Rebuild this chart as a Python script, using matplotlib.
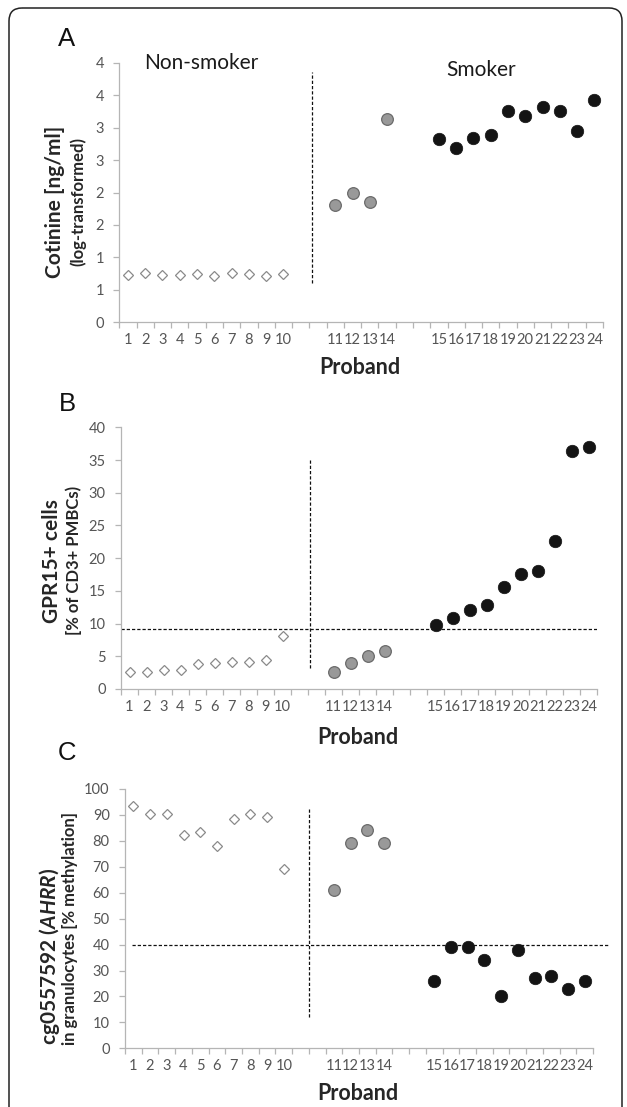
import matplotlib.pyplot as plt
from matplotlib.patches import FancyBboxPatch

plt.rcParams['font.family'] = ['Lato', 'DejaVu Sans']
plt.rcParams['mathtext.fontset'] = 'custom'
plt.rcParams['mathtext.bfit'] = 'Lato:bold:italic'
plt.rcParams['mathtext.bf'] = 'Lato:bold'

# proband slots on the category axis ('' = empty gap)
proband_slots = ['1', '2', '3', '4', '5', '6', '7', '8', '9', '10', '', '',
                 '11', '12', '13', '14', '', '',
                 '15', '16', '17', '18', '19', '20', '21', '22', '23', '24']
nonsmoker_ids = ['1', '2', '3', '4', '5', '6', '7', '8', '9', '10']
light_ids = ['11', '12', '13', '14']
smoker_ids = ['15', '16', '17', '18', '19', '20', '21', '22', '23', '24']

# A: cotinine (log-transformed)
cotinine_non = [0.73, 0.76, 0.73, 0.73, 0.74, 0.72, 0.76, 0.74, 0.72, 0.74]
cotinine_light = [1.80, 2.00, 1.85, 3.14]
cotinine_smk = [2.82, 2.68, 2.84, 2.89, 3.25, 3.18, 3.32, 3.25, 2.95, 3.42]
cotinine_ticks = [0, 0.5, 1, 1.5, 2, 2.5, 3, 3.5, 4]
cotinine_ticklabels = ['0', '1', '1', '2', '2', '3', '3', '4', '4']

# B: GPR15+ cells
gpr15_non = [2.6, 2.6, 2.9, 2.9, 3.8, 3.9, 4.2, 4.2, 4.5, 8.1]
gpr15_light = [2.6, 3.9, 5.0, 5.8]
gpr15_smk = [9.8, 10.9, 12.1, 12.8, 15.6, 17.6, 18.0, 22.6, 36.4, 37.0]
gpr15_cutoff = 9.1

# C: cg05575921 AHRR methylation
ahrr_non = [93.3, 90.2, 90.2, 82.3, 83.3, 78.1, 88.3, 90.2, 89.3, 69.2]
ahrr_light = [61.2, 79.3, 84.3, 79.3]
ahrr_smk = [26.1, 39.1, 39.1, 34.1, 20.1, 38.0, 27.1, 28.0, 23.0, 26.1]
ahrr_cutoff = 40

W, H = 627, 1107
fig = plt.figure(figsize=(W / 100, H / 100), dpi=100)

# overlay in pixel coordinates for the frame and free text
over = fig.add_axes([0, 0, 1, 1])
over.set_xlim(0, W)
over.set_ylim(H, 0)
over.axis('off')
over.add_patch(FancyBboxPatch((9, 8), 613, 1130, boxstyle='round,pad=0,rounding_size=13',
                              fc='none', ec='#222222', lw=1.1))

pos = {lab: i for i, lab in enumerate(proband_slots) if lab}
AX_GREY = '#b5b5b5'
TXT_GREY = '#555555'


def draw_panel(rect, non, light, smk, ylim, yticks, yticklabels):
    ax = fig.add_axes([rect[0] / W, 1 - rect[3] / H, (rect[2] - rect[0]) / W, (rect[3] - rect[1]) / H])
    ax.plot([pos[k] for k in nonsmoker_ids], non, ls='none', marker='D', ms=5.6,
            mfc='white', mec='#8a8a8a', mew=0.9, clip_on=False, zorder=3)
    ax.plot([pos[k] for k in light_ids], light, ls='none', marker='o', ms=8.4,
            mfc='#999999', mec='#6a6a6a', mew=0.9, clip_on=False, zorder=3)
    ax.plot([pos[k] for k in smoker_ids], smk, ls='none', marker='o', ms=9.0,
            mfc='#141414', mec='#141414', mew=0.5, clip_on=False, zorder=3)
    ax.set_xlim(-0.5, len(proband_slots) - 0.5)
    ax.set_ylim(*ylim)
    ax.set_xticks(range(len(proband_slots)))
    ax.set_xticklabels(proband_slots)
    ax.set_xticks([i - 0.5 for i in range(len(proband_slots) + 1)], minor=True)
    ax.tick_params(axis='x', which='major', length=0, pad=8, labelsize=10.5, labelcolor=TXT_GREY)
    ax.tick_params(axis='x', which='minor', length=4, width=0.9, color=AX_GREY)
    ax.set_yticks(yticks)
    ax.set_yticklabels(yticklabels)
    ax.tick_params(axis='y', length=4, width=0.9, color=AX_GREY, pad=7, labelsize=10.5, labelcolor=TXT_GREY)
    for s in ['top', 'right']:
        ax.spines[s].set_visible(False)
    for s in ['left', 'bottom']:
        ax.spines[s].set_color(AX_GREY)
        ax.spines[s].set_linewidth(0.9)
    ax.patch.set_alpha(0)
    return ax


dash = (0, (2.6, 1.6))

axA = draw_panel((119.3, 62.7, 603, 322.3), cotinine_non, cotinine_light, cotinine_smk,
                 (0, 4), cotinine_ticks, cotinine_ticklabels)
axA.plot([10.65, 10.65], [0.6, 3.86], color='#111111', lw=0.9, ls=dash)

axB = draw_panel((121, 427.3, 597, 689), gpr15_non, gpr15_light, gpr15_smk,
                 (0, 40), range(0, 41, 5), [str(v) for v in range(0, 41, 5)])
axB.plot([10.6, 10.6], [3.2, 35.3], color='#111111', lw=0.9, ls=dash)
axB.plot([-0.5, 27.5], [gpr15_cutoff, gpr15_cutoff], color='#111111', lw=0.9, ls=dash)

axC = draw_panel((125, 789, 593, 1048.3), ahrr_non, ahrr_light, ahrr_smk,
                 (0, 100), range(0, 101, 10), [str(v) for v in range(0, 101, 10)])
axC.plot([10.5, 10.5], [12.2, 93.2], color='#111111', lw=0.9, ls=dash)
axC.plot([-0.1, 28.4], [ahrr_cutoff, ahrr_cutoff], color='#111111', lw=0.9, ls=dash, clip_on=False)

# panel letters
for lab, y in [('A', 39), ('B', 404), ('C', 753)]:
    over.text(67, y, lab, ha='center', va='center', fontsize=18.5, family='Liberation Sans', color='#111111')

over.text(201, 63, 'Non-smoker', ha='center', va='center', fontsize=15, color='#1a1a1a')
over.text(481, 70, 'Smoker', ha='center', va='center', fontsize=15, color='#1a1a1a')

for x, y in [(360, 368), (358, 737), (358, 1093)]:
    over.text(x, y, 'Proband', ha='center', va='center', fontsize=15.5, fontweight='bold', color='#262626')

# y axis labels
over.text(55, 202, 'Cotinine [ng/ml]', rotation=90, ha='center', va='center',
          fontsize=15, fontweight='bold', color='#262626')
over.text(78, 202, '(log-transformed)', rotation=90, ha='center', va='center',
          fontsize=12, fontweight='bold', color='#262626')
over.text(52, 561, 'GPR15+ cells', rotation=90, ha='center', va='center',
          fontsize=15, fontweight='bold', color='#262626')
over.text(74, 560, '[% of CD3+ PMBCs)', rotation=90, ha='center', va='center',
          fontsize=12, fontweight='bold', color='#262626')
over.text(50, 1045, r'cg0557592 ($\mathbfit{AHRR}$)', rotation=90, ha='center', va='bottom',
          fontsize=15, fontweight='bold', color='#262626')
over.text(70, 1045, 'in granulocytes [% methylation]', rotation=90, ha='center', va='bottom',
          fontsize=12, fontweight='bold', color='#262626')

fig.savefig('out.png', dpi=100)
